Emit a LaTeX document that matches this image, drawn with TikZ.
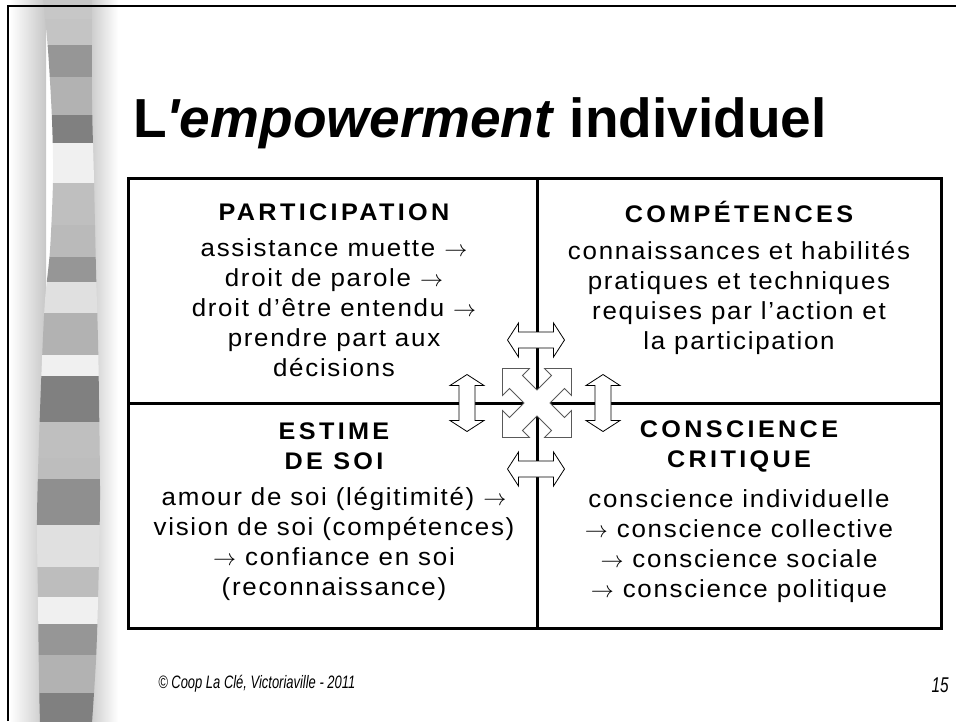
\documentclass[tikz,border=0pt]{standalone}
\usepackage{fontspec}
\setmainfont{Liberation Sans}
\newfontfamily\titlefont{Liberation Sans}
\newfontfamily\headfont{Liberation Sans}[LetterSpace=14, FakeStretch=1.05]
\newfontfamily\bodyfont{Liberation Sans}[LetterSpace=7, FakeStretch=1.05]
\newfontfamily\footfont{Liberation Sans}[FakeStretch=0.72]
\usetikzlibrary{positioning}

\tikzset{
  cellhead/.style={font=\headfont\bfseries\fontsize{18}{22.5}\selectfont, align=center, inner sep=0pt},
  celltext/.style={font=\bodyfont\fontsize{18.5}{22.5}\selectfont, align=center, inner sep=0pt},
  gridline/.style={line width=2.25pt},
  arrowline/.style={draw=black, line width=0.6pt, fill=white, line join=miter},
  quadline/.style={draw=black!65, line width=0.6pt, fill=white, line join=miter},
  dblarrow/.pic={\path[arrowline] (-28.5,0) -- (-17.5,-17) -- (-17.5,-8) -- (17.5,-8) -- (17.5,-17) -- (28.5,0) -- (17.5,17) -- (17.5,8) -- (-17.5,8) -- (-17.5,17) -- cycle;}
}

\begin{document}
\begin{tikzpicture}[x=0.75pt, y=-0.75pt]
\useasboundingbox (0,0) rectangle (956,721);

% shadow and striped bar
\shade[left color=white, right color=black!22] (10,0) rectangle (46,721);
\shade[left color=black!22, right color=white] (88,0) rectangle (118,721);
\begin{scope}
  \clip plot[smooth] coordinates {(43,-2) (48,50) (52,120) (53,180) (50,250) (45,300) (42,360) (39,440) (37,520) (38,600) (39,680) (40,723)}
    -- plot[smooth] coordinates {(92,723) (96,660) (98,600) (100,500) (99,400) (98,340) (96,270) (94,180) (92,100) (92,-2)} -- cycle;
  \foreach \ya/\yb/\g in {-2/19/78, 19/45/77, 45/77/59, 77/115/70, 115/143/50, 143/183/94,
      183/225/75, 225/257/73, 257/282/59, 282/313/88, 313/355/70, 355/376/94, 376/422/50,
      422/458/75, 458/479/74, 479/525/56, 525/567/88, 567/597/74, 597/624/94, 624/655/59,
      655/693/70, 693/723/50}
    \fill[white!\g!black] (30,\ya) rectangle (110,\yb);
\end{scope}

% slide frame
\draw[line width=1.5pt] (8,721) -- (8,6) -- (956,6);

% title
\node[font=\titlefont\bfseries\fontsize{41.25}{45}\selectfont, anchor=base west, inner sep=0pt] (title) at (133,137) {L\textit{'empowerment} individuel};

% table
\coordinate (nw) at (128,178);
\coordinate (se) at (941,628);
\coordinate (mid) at (537,403);
\draw[gridline] (nw) rectangle (se);
\draw[gridline] (nw -| mid) -- (se -| mid);
\draw[gridline] (nw |- mid) -- (se |- mid);

% cells
\node[cellhead] (parthead) at (334,212) {PARTICIPATION};
\node[celltext, below=13.5pt of parthead] (parttext) {assistance muette $\rightarrow$\\ droit de parole $\rightarrow$\\ droit d’être entendu $\rightarrow$\\ prendre part aux\\ décisions};

\node[cellhead] (comphead) at (739,212) {COMPÉTENCES};
\node[celltext, below=13.5pt of comphead] (comptext) {connaissances et habilités\\ pratiques et techniques\\ requises par l’action et\\ la participation};

\node[cellhead] (estimhead) at (334,446) {ESTIME\\ DE SOI};
\node[celltext, below=13pt of estimhead] (estimtext) {amour de soi (légitimité) $\rightarrow$\\ vision de soi (compétences)\\ $\rightarrow$ confiance en soi\\ (reconnaissance)};

\node[cellhead] (conshead) at (739,446) {CONSCIENCE\\ CRITIQUE};
\node[celltext, below=13pt of conshead] (constext) {conscience individuelle\\ $\rightarrow$ conscience collective\\ $\rightarrow$ conscience sociale\\ $\rightarrow$ conscience politique};

% arrows round the centre
\pic (arrtop) at (536,340) {dblarrow};
\pic (arrbot) at (536,469) {dblarrow};
\pic[rotate=90] (arrleft) at (467,403) {dblarrow};
\pic[rotate=90] (arrright) at (603,403) {dblarrow};
\begin{scope}[shift={(mid)}]
  \path[quadline] (0,13) -- (-14.5,27.5) -- (-7.5,34.5) -- (-34.5,34.5) -- (-34.5,7.5) -- (-27.5,14.5)
    -- (-13,0) -- (-27.5,-14.5) -- (-34.5,-7.5) -- (-34.5,-34.5) -- (-7.5,-34.5) -- (-14.5,-27.5)
    -- (0,-13) -- (14.5,-27.5) -- (7.5,-34.5) -- (34.5,-34.5) -- (34.5,-7.5) -- (27.5,-14.5)
    -- (13,0) -- (27.5,14.5) -- (34.5,7.5) -- (34.5,34.5) -- (7.5,34.5) -- (14.5,27.5) -- cycle;
\end{scope}

% footer
\node[font=\footfont\itshape\fontsize{13.5}{15}\selectfont, anchor=base west, inner sep=0pt] (credit) at (158,688) {© Coop La Clé, Victoriaville - 2011};
\node[font=\footfont\itshape\fontsize{16}{18}\selectfont, anchor=base east, inner sep=0pt] (pagenum) at (949,692) {15};
\end{tikzpicture}
\end{document}
